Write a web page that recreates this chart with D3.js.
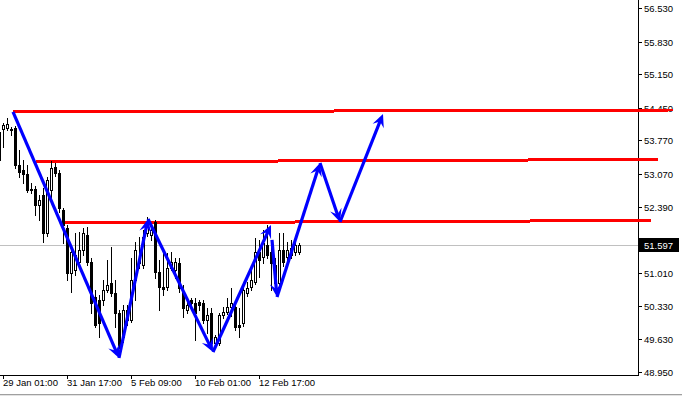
<!DOCTYPE html>
<html><head><meta charset="utf-8">
<script src="https://cdn.jsdelivr.net/npm/d3@7"></script>
<style>html,body{margin:0;padding:0;background:#fff;}svg{display:block;}</style>
</head><body>
<script>
// ---- data ----
const opens  = [53.947,54.009,54.030,54.009,54.030,53.259,53.155,53.072,52.759,52.759,52.426,52.634,51.843,52.738,53.218,53.093,52.322,51.947,51.009,51.072,51.238,51.488,51.801,51.238,50.509,50.447,50.447,50.655,50.801,50.593,50.176,49.676,50.238,50.030,50.863,51.280,51.176,51.843,51.801,52.072,51.030,50.718,50.718,51.113,51.072,51.218,50.613,50.238,50.447,50.384,50.405,50.384,50.030,50.176,49.551,49.551,50.134,50.197,50.301,50.301,49.926,49.968,50.593,50.718,50.822,51.447,51.343,51.593,51.447,51.176,50.801,51.488,51.343,51.384,51.447,51.447];
const highs  = [54.155,54.134,54.239,54.051,54.072,53.572,53.363,53.259,52.884,52.822,52.634,52.780,53.009,53.343,53.301,53.155,52.363,52.009,51.593,51.843,51.863,51.947,51.968,51.322,50.655,50.551,50.863,51.280,51.551,50.863,50.238,50.343,50.343,51.322,51.655,51.759,51.905,52.176,52.009,52.113,51.280,51.447,51.426,51.447,51.322,51.322,50.759,50.447,50.488,50.488,50.447,50.447,50.280,50.280,49.718,50.176,50.301,50.488,50.697,50.447,50.280,50.697,50.822,51.134,51.738,51.697,51.905,52.009,51.593,51.322,51.843,51.843,51.655,51.697,51.634,51.634];
const lows   = [53.259,53.634,53.988,53.884,53.197,53.009,52.884,52.697,52.676,52.218,52.113,51.655,51.780,52.530,53.030,52.280,51.634,50.863,50.613,50.968,51.176,51.384,51.176,50.176,49.884,49.676,50.343,50.613,50.530,49.884,49.447,49.572,49.926,49.988,50.447,51.113,51.113,51.780,51.697,50.905,50.238,50.551,50.655,51.072,50.905,50.613,50.093,50.176,50.322,49.613,50.238,49.968,49.759,49.468,49.488,49.509,50.072,50.155,50.113,49.822,49.676,49.905,50.530,50.655,50.780,50.926,51.218,51.322,50.655,50.613,50.759,51.155,51.238,51.322,51.384,51.405];
const closes = [53.363,54.093,54.113,53.988,53.259,53.113,53.072,52.738,52.738,52.426,52.530,51.843,52.947,53.197,53.093,52.363,52.009,51.009,51.447,51.384,51.488,51.843,51.238,50.384,49.926,49.968,50.655,50.759,50.593,50.176,49.509,50.238,50.030,50.863,51.488,51.218,51.759,52.072,51.905,51.030,50.718,50.676,51.113,51.238,51.238,50.697,50.280,50.343,50.384,50.176,50.343,50.030,50.134,49.551,49.676,50.134,50.197,50.301,50.384,49.884,49.884,50.655,50.697,50.863,51.447,51.280,51.634,51.384,51.218,50.801,51.488,51.238,51.488,51.530,51.593,51.597];

const priceTicks = [56.530,55.830,55.150,54.450,53.770,53.070,52.390,51.690,51.010,50.330,49.630,48.950];
const timeTickBars = [1,17,33,49,65];
const timeTickLabels = ["29 Jan 01:00","31 Jan 17:00","5 Feb 09:00","10 Feb 01:00","12 Feb 17:00"];
const currentPrice = 51.597;

// horizontal (slightly sloped) level lines: start bar/price -> end bar/price
const levelStartBar   = [3.5, 9.25, 16.5];
const levelStartPrice = [54.364, 53.322, 52.051];
const levelEndBar     = [168.5, 164.75, 163];
const levelEndPrice   = [54.405, 53.374, 52.103];

// zigzag arrows: from bar/price -> to bar/price (arrowhead at "to")
const arrowFromBar   = [3.5, 30, 37.25, 53.5, 68.25, 69.5, 80.25, 85.25];
const arrowFromPrice = [54.364, 49.238, 52.134, 49.364, 51.697, 50.509, 53.301, 52.072];
const arrowToBar     = [30, 37.25, 53.5, 68, 69.5, 80.25, 85.25, 96];
const arrowToPrice   = [49.238, 52.134, 49.364, 52.009, 50.509, 53.301, 52.072, 54.322];

// ---- chart ----
const W = 682, H = 399;
const plotRight = 638, plotBottom = 375;
const svg = d3.select("body").append("svg").attr("width", W).attr("height", H);
svg.append("rect").attr("width", W).attr("height", H).attr("fill", "#fff");

const x = d3.scaleLinear().domain([0, 159.75]).range([-1, plotRight]);
const y = d3.scaleLinear().domain([48.95, 56.53]).range([371.84, 8]);

const font = "'Liberation Sans', Arial, sans-serif";

// current price grey line
svg.append("line").attr("x1", 0).attr("x2", plotRight)
  .attr("y1", Math.round(y(currentPrice)) + 0.5).attr("y2", Math.round(y(currentPrice)) + 0.5)
  .attr("stroke", "#c0c0c0").attr("stroke-width", 1);

// frame
svg.append("line").attr("x1", plotRight + 0.5).attr("x2", plotRight + 0.5).attr("y1", 0).attr("y2", plotBottom + 1)
  .attr("stroke", "#000");
svg.append("line").attr("x1", 0).attr("x2", plotRight + 1).attr("y1", plotBottom + 0.5).attr("y2", plotBottom + 0.5)
  .attr("stroke", "#000");
svg.append("line").attr("x1", 0).attr("x2", W).attr("y1", 394.5).attr("y2", 394.5).attr("stroke", "#a0a0a0");
svg.append("line").attr("x1", 0).attr("x2", W).attr("y1", 395.5).attr("y2", 395.5).attr("stroke", "#e3e3e3");

// price axis
const pt = svg.append("g");
priceTicks.forEach(v => {
  const yy = Math.round(y(v));
  pt.append("line").attr("x1", plotRight).attr("x2", plotRight + 4).attr("y1", yy + 0.5).attr("y2", yy + 0.5).attr("stroke", "#000");
  pt.append("text").attr("x", plotRight + 6).attr("y", yy + 3.5).text(v.toFixed(3))
    .attr("font-family", font).attr("font-size", 9.5).attr("fill", "#000");
});

// time axis
timeTickBars.forEach((b, i) => {
  const xx = Math.round(x(b));
  svg.append("line").attr("x1", xx + 0.5).attr("x2", xx + 0.5).attr("y1", plotBottom).attr("y2", plotBottom + 4).attr("stroke", "#000");
  svg.append("text").attr("x", xx).attr("y", 386).text(timeTickLabels[i])
    .attr("font-family", font).attr("font-size", 9.5).attr("fill", "#000");
});

// level lines (red)
const lv = svg.append("g").attr("shape-rendering", "crispEdges");
levelStartBar.forEach((b, i) => {
  lv.append("line")
    .attr("x1", x(b)).attr("y1", y(levelStartPrice[i]))
    .attr("x2", x(levelEndBar[i])).attr("y2", y(levelEndPrice[i]))
    .attr("stroke", "#ff0000").attr("stroke-width", 3);
});

// candles
const cg = svg.append("g").attr("shape-rendering", "crispEdges");
opens.forEach((o, i) => {
  const c = closes[i], h = highs[i], l = lows[i];
  const cx = Math.round(x(i));
  const yo = Math.round(y(o)), yc = Math.round(y(c)), yh = Math.round(y(h)), yl = Math.round(y(l));
  cg.append("rect").attr("x", cx).attr("y", yh).attr("width", 1).attr("height", yl - yh + 1).attr("fill", "#000");
  if (c >= o) {
    cg.append("rect").attr("x", cx - 1).attr("y", yc).attr("width", 3).attr("height", yo - yc + 1).attr("fill", "#000");
    if (yo - yc - 1 > 0)
      cg.append("rect").attr("x", cx).attr("y", yc + 1).attr("width", 1).attr("height", yo - yc - 1).attr("fill", "#fff");
  } else {
    cg.append("rect").attr("x", cx - 1).attr("y", yo).attr("width", 3).attr("height", yc - yo + 1).attr("fill", "#000");
  }
});

// arrows (blue)
const ag = svg.append("g");
arrowFromBar.forEach((b, i) => {
  const x1 = x(b), y1 = y(arrowFromPrice[i]), x2 = x(arrowToBar[i]), y2 = y(arrowToPrice[i]);
  const ang = Math.atan2(y2 - y1, x2 - x1);
  const len = Math.hypot(x2 - x1, y2 - y1);
  ag.append("line").attr("x1", x1).attr("y1", y1)
    .attr("x2", x1 + Math.cos(ang) * (len - 4)).attr("y2", y1 + Math.sin(ang) * (len - 4))
    .attr("stroke", "#0000ff").attr("stroke-width", 3.2);
  const pts = [[0, 0], [-13, -6], [-8, 0], [-13, 6]].map(([px, py]) => [
    x2 + px * Math.cos(ang) - py * Math.sin(ang),
    y2 + px * Math.sin(ang) + py * Math.cos(ang)
  ]);
  ag.append("polygon").attr("points", pts.map(p => p.join(",")).join(" ")).attr("fill", "#0000ff");
});

// current price label
const cy = y(currentPrice);
svg.append("rect").attr("x", plotRight + 1).attr("y", Math.round(cy) - 7).attr("width", 40).attr("height", 14).attr("fill", "#000");
svg.append("text").attr("x", plotRight + 6).attr("y", Math.round(cy) + 4).text(currentPrice.toFixed(3))
  .attr("font-family", font).attr("font-size", 9.5).attr("fill", "#fff");
</script>
</body></html>
